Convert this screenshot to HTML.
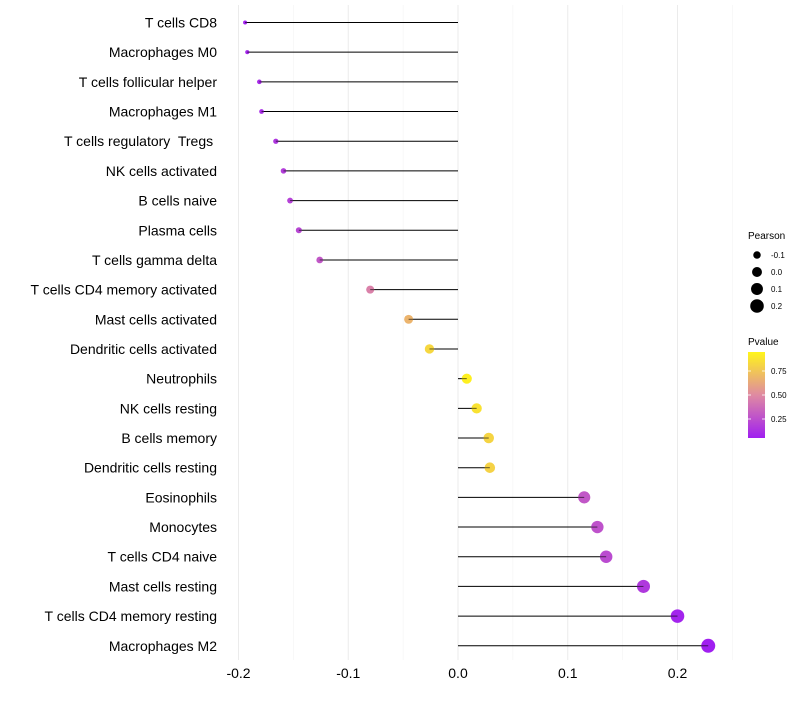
<!DOCTYPE html>
<html><head><meta charset="utf-8"><style>
body{margin:0;background:#fff;}
svg{font-family:"Liberation Sans",sans-serif;}
</style></head><body>
<svg id="chart" width="800" height="700">
<defs><linearGradient id="pg" x1="0" y1="1" x2="0" y2="0">
<stop offset="0" stop-color="#a01ff0"/><stop offset="0.5" stop-color="#df8aa2"/><stop offset="1" stop-color="#fff51a"/>
</linearGradient></defs>
<g id="grid"></g>
<g id="marks"></g>
<g id="ylab"></g>
<g id="xlab"></g>
<g font-size="10" fill="#000">
<text x="748" y="239" font-size="10">Pearson</text>
<g id="sizeleg"></g>
</g>
<g font-size="8">
<text x="748" y="345" font-size="10">Pvalue</text>
<rect x="748" y="352" width="17" height="86" fill="url(#pg)"/>
<g id="cbticks"></g>
</g>
</svg>
<script>
const categories=["T cells CD8","Macrophages M0","T cells follicular helper","Macrophages M1","T cells regulatory  Tregs ","NK cells activated","B cells naive","Plasma cells","T cells gamma delta","T cells CD4 memory activated","Mast cells activated","Dendritic cells activated","Neutrophils","NK cells resting","B cells memory","Dendritic cells resting","Eosinophils","Monocytes","T cells CD4 naive","Mast cells resting","T cells CD4 memory resting","Macrophages M2"];
const pearson=[-0.194,-0.192,-0.181,-0.179,-0.166,-0.159,-0.153,-0.145,-0.126,-0.080,-0.045,-0.026,0.008,0.017,0.028,0.029,0.115,0.127,0.135,0.169,0.200,0.228];
const pvalue=[0.07,0.09,0.11,0.12,0.16,0.19,0.21,0.23,0.30,0.48,0.70,0.85,0.96,0.90,0.84,0.83,0.30,0.28,0.25,0.17,0.08,0.06];
const xTicks=[-0.2,-0.1,0.0,0.1,0.2];
const xTickLabels=["-0.2","-0.1","0.0","0.1","0.2"];
const sizeLegend=[-0.1,0.0,0.1,0.2];
const cbTicks=[0.25,0.5,0.75];
const NS="http://www.w3.org/2000/svg";
const X=v=>458+v*1097.5;
const Y=i=>22.5+i*29.68;
const R=v=>Math.sqrt(Math.max(2.2,24.7+106.6*v));
function col(p){
 const t=Math.max(0,Math.min(1,(p-0.06)/(0.98-0.06)));
 const s=[[160,31,240],[223,138,162],[255,245,26]];
 let a,b,u; if(t<0.5){a=s[0];b=s[1];u=t/0.5;}else{a=s[1];b=s[2];u=(t-0.5)/0.5;}
 return `rgb(${a.map((c,k)=>Math.round(c+(b[k]-c)*u)).join(',')})`;
}
function mk(tag,at,parent){const e=document.createElementNS(NS,tag);for(const k in at)e.setAttribute(k,at[k]);parent.appendChild(e);return e;}
const grid=document.getElementById('grid'),marks=document.getElementById('marks'),ylab=document.getElementById('ylab'),xlab=document.getElementById('xlab');
for(let v=-0.2;v<=0.2501;v+=0.05){
 const major=Math.abs(Math.round(v*100)%10)===0;
 const l=mk('line',{x1:X(v),x2:X(v),y1:5,y2:660,stroke:major?'#ebebeb':'#f3f3f3','stroke-width':major?1:0.6},grid);
 
 
}
xTicks.forEach((v,i)=>{
 const t=mk('text',{x:X(v),y:678,'text-anchor':'middle','font-size':14,fill:'#000'},xlab);
 t.textContent=xTickLabels[i];
 
 
});
categories.forEach((c,i)=>{
 const t=mk('text',{x:217,y:Y(i)+5,'text-anchor':'end','font-size':14,fill:'#000'},ylab);
 t.setAttributeNS('http://www.w3.org/XML/1998/namespace','xml:space','preserve');
 t.style.whiteSpace='pre';
 t.textContent=c;
 
 
 const seg=mk('line',{x1:X(0),x2:X(pearson[i]),y1:Y(i),y2:Y(i),stroke:'#000','stroke-width':1},marks);
 
 
 const d=mk('circle',{cx:X(pearson[i]),cy:Y(i),r:R(pearson[i]),fill:col(pvalue[i])},marks);
 
 
 const s2=mk('line',{x1:X(pearson[i]),x2:X(pearson[i])+(pearson[i]<0?R(pearson[i]):-R(pearson[i])),y1:Y(i),y2:Y(i),stroke:'#000','stroke-width':1,'stroke-opacity':0.6},marks);
 
 
});
const sl=document.getElementById('sizeleg');
sizeLegend.forEach((v,i)=>{
 const y=255+i*17;
 const c=mk('circle',{cx:757,cy:y,r:R(v),fill:'#000'},sl);
 
 
 const t=mk('text',{x:771,y:y+3,'font-size':8},sl);
 t.textContent=v.toFixed(1);
 
 
});
const cb=document.getElementById('cbticks');
cbTicks.forEach(v=>{
 const y=443-v*96;
 const l=mk('line',{x1:748,x2:751,y1:y,y2:y,stroke:'#fff','stroke-width':0.8},cb);
 
 
 const l2=mk('line',{x1:762,x2:765,y1:y,y2:y,stroke:'#fff','stroke-width':0.8},cb);
 
 
 const t=mk('text',{x:771,y:y+3,'font-size':8},cb);
 t.textContent=v.toFixed(2);
 
 
});
</script>
</body></html>
